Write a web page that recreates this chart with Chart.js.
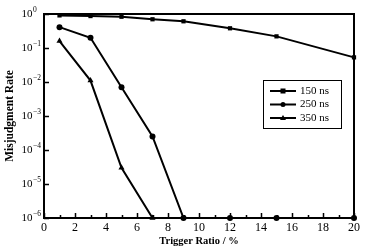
<!DOCTYPE html>
<html>
<head>
<meta charset="utf-8">
<script src="https://cdn.jsdelivr.net/npm/chart.js@4"></script>
<style>
  html, body { margin: 0; padding: 0; background: #fff; }
  #wrap { width: 368px; height: 252px; }
</style>
</head>
<body>
<div id="wrap"><canvas id="myChart" width="368" height="252"></canvas></div>
<script>
const ratios = [1, 3, 5, 7, 9, 12, 15, 20];
const rate150 = [0.91, 0.87, 0.83, 0.70, 0.61, 0.38, 0.22, 0.053];
const rate250 = [0.41, 0.20, 0.007, 0.00025, 1e-6, 1e-6, 1e-6, 1e-6];
const rate350 = [0.16, 0.011, 0.00003, 1e-6, null, null, null, null];
const seriesNames = ['150 ns', '250 ns', '350 ns'];
const yTicks = [1, 1e-1, 1e-2, 1e-3, 1e-4, 1e-5, 1e-6];
const yTickExponents = ['0', '\u22121', '\u22122', '\u22123', '\u22124', '\u22125', '\u22126'];
const xTicks = [0, 2, 4, 6, 8, 10, 12, 14, 16, 18, 20];

const FONT = '"Liberation Serif", "Times New Roman", serif';

function toPoints(vals) {
    return ratios.map((r, i) => ({ x: r, y: vals[i] }));
}

// frame, inward ticks, y labels with superscripts, legend
const framePlugin = {
    id: 'frame',
    afterDraw(chart) {
        const ctx = chart.ctx;
        const a = chart.chartArea;
        const xs = chart.scales.x;
        const ys = chart.scales.y;
        ctx.save();
        ctx.strokeStyle = '#000';
        ctx.fillStyle = '#000';
        ctx.lineWidth = 2;
        ctx.strokeRect(a.left, a.top, a.right - a.left, a.bottom - a.top);
        ctx.lineWidth = 1.5;
        ctx.beginPath();
        for (let v = 0; v <= 20; v++) {
            const px = Math.round(xs.getPixelForValue(v)) + 0.5;
            const len = v % 2 === 0 ? 5 : 3;
            ctx.moveTo(px, a.bottom);
            ctx.lineTo(px, a.bottom - len);
        }
        yTicks.forEach(v => {
            const py = Math.round(ys.getPixelForValue(v)) + 0.5;
            ctx.moveTo(a.left, py);
            ctx.lineTo(a.left + 5, py);
        });
        ctx.stroke();

        // y tick labels: 10 with superscript exponent
        ctx.textAlign = 'left';
        ctx.textBaseline = 'middle';
        yTicks.forEach((v, i) => {
            const py = ys.getPixelForValue(v);
            const x0 = 21.5;
            ctx.font = '11px ' + FONT;
            ctx.fillText('10', x0, py + 0.5);
            const w = ctx.measureText('10').width;
            ctx.font = '7.5px ' + FONT;
            ctx.fillText(yTickExponents[i], x0 + w + 0.5, py - 3.5);
        });

        // legend
        const bx = 263, by = 80, bw = 78, bh = 48;
        ctx.lineWidth = 1;
        ctx.strokeRect(bx + 0.5, by + 0.5, bw, bh);
        ctx.font = '11px ' + FONT;
        ctx.textBaseline = 'middle';
        chart.data.datasets.forEach((ds, i) => {
            const y = by + 11 + i * 13.5;
            ctx.lineWidth = 2;
            ctx.beginPath();
            ctx.moveTo(bx + 7, y);
            ctx.lineTo(bx + 33, y);
            ctx.stroke();
            const cx = bx + 20;
            ctx.beginPath();
            if (ds.pointStyle === 'rect') {
                ctx.fillRect(cx - 2.5, y - 2.5, 5, 5);
            } else if (ds.pointStyle === 'circle') {
                ctx.arc(cx, y, 2.5, 0, Math.PI * 2);
                ctx.fill();
            } else {
                ctx.moveTo(cx, y - 3);
                ctx.lineTo(cx + 3, y + 2);
                ctx.lineTo(cx - 3, y + 2);
                ctx.closePath();
                ctx.fill();
            }
            ctx.fillText(ds.label, bx + 37, y);
        });
        ctx.restore();
    }
};

const ctx = document.getElementById('myChart').getContext('2d');
const chart = new Chart(ctx, {
    type: 'line',
    data: {
        datasets: [
            { label: seriesNames[0], data: toPoints(rate150), pointStyle: 'rect', pointRadius: 3 },
            { label: seriesNames[1], data: toPoints(rate250), pointStyle: 'circle', pointRadius: 3 },
            { label: seriesNames[2], data: toPoints(rate350), pointStyle: 'triangle', pointRadius: 3.5 }
        ].map(ds => Object.assign(ds, {
            borderColor: '#000',
            backgroundColor: '#000',
            pointBackgroundColor: '#000',
            pointBorderColor: '#000',
            pointBorderWidth: 0,
            borderWidth: 2,
            tension: 0,
            clip: false,
            spanGaps: false
        }))
    },
    options: {
        responsive: false,
        animation: false,
        devicePixelRatio: 1,
        layout: { padding: { top: 14, right: 14, left: 0, bottom: 0 } },
        plugins: {
            legend: { display: false },
            tooltip: { enabled: false }
        },
        scales: {
            x: {
                type: 'linear',
                min: 0,
                max: 20,
                afterBuildTicks: s => { s.ticks = xTicks.map(v => ({ value: v })); },
                afterFit: s => { s.height = 34; },
                grid: { display: false, drawTicks: false },
                border: { display: false },
                ticks: {
                    color: '#000',
                    font: { family: FONT, size: 12 },
                    padding: 3,
                    maxRotation: 0
                },
                title: {
                    display: true,
                    text: 'Trigger Ratio / %',
                    color: '#000',
                    font: { family: FONT, size: 10.5, weight: 'bold' },
                    padding: { top: 0, bottom: 4.5 }
                }
            },
            y: {
                type: 'logarithmic',
                min: 1e-6,
                max: 1,
                afterBuildTicks: s => { s.ticks = yTicks.map(v => ({ value: v })); },
                afterFit: s => { s.width = 44; },
                grid: { display: false, drawTicks: false },
                border: { display: false },
                ticks: { display: false },
                title: {
                    display: true,
                    text: 'Misjudgment Rate',
                    color: '#000',
                    font: { family: FONT, size: 11.5, weight: 'bold' },
                    padding: { top: 3.5, bottom: 0 }
                }
            }
        }
    },
    plugins: [framePlugin]
});
</script>
</body>
</html>
